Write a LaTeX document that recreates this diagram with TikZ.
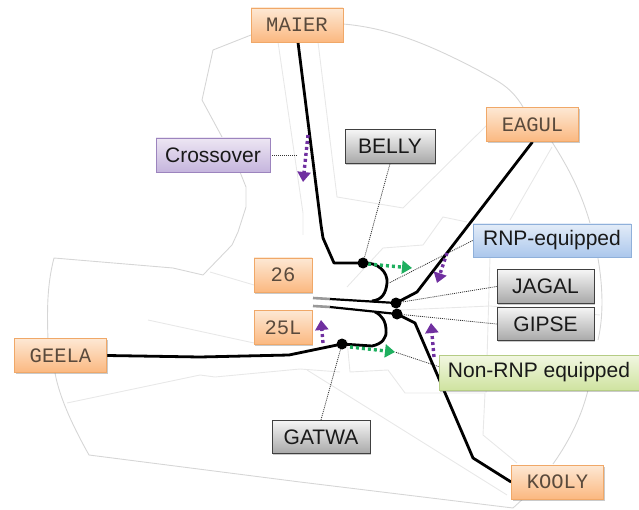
\documentclass[tikz,border=0pt]{standalone}
\usepackage{fontspec}
\setmainfont{Liberation Sans}
\newfontfamily\monofam{Liberation Mono}
\usetikzlibrary{arrows.meta,shadows}
\definecolor{grayline}{HTML}{D6D6D6}
\definecolor{faintline}{HTML}{E8E8E8}
\definecolor{purp}{HTML}{7030A0}
\definecolor{grn}{HTML}{1FAF5F}
\definecolor{fixtext}{HTML}{5A4A3C}
\definecolor{orT}{HTML}{FDE8D4}\definecolor{orB}{HTML}{FBB880}\definecolor{orL}{HTML}{F0A868}
\definecolor{puT}{HTML}{EDE6F3}\definecolor{puB}{HTML}{C5B5DD}\definecolor{puL}{HTML}{9C84BE}
\definecolor{blT}{HTML}{E3ECF8}\definecolor{blB}{HTML}{ABC7EC}\definecolor{blL}{HTML}{8FB0DA}
\definecolor{grT}{HTML}{F2F7E2}\definecolor{grB}{HTML}{CFE3A0}\definecolor{grL}{HTML}{B5CC85}
\definecolor{gyT}{HTML}{F5F5F5}\definecolor{gyB}{HTML}{A8A8A8}\definecolor{gyL}{HTML}{404040}
\pgfdeclarelayer{back}
\pgfsetlayers{back,main}
\tikzset{
  boxbase/.style={rectangle,inner sep=0pt,drop shadow={shadow xshift=1pt,shadow yshift=-1.5pt,opacity=.35,fill=black!60}},
  fixbox/.style={boxbase,draw=#1,line width=.8pt,shading=axis,shading angle=0},
  sansfont/.style={font=\fontsize{21}{23}\selectfont,text=black!90},
  fixname/.style={fixbox=orL,bottom color=orB,top color=orT,minimum width=92pt,minimum height=34pt,font=\fontsize{20.5}{22}\selectfont\monofam,text=fixtext},
  waypt/.style={fixbox=gyL,bottom color=gyB,top color=gyT,minimum height=33.5pt,sansfont},
  tagpurple/.style={fixbox=puL,bottom color=puB,top color=puT,sansfont},
  tagblue/.style={fixbox=blL,bottom color=blB,top color=blT,sansfont},
  taggreen/.style={fixbox=grL,bottom color=grB,top color=grT,sansfont},
  outline/.style={draw=grayline,line width=.9pt},
  sector/.style={draw=faintline,line width=.9pt},
  leader/.style={draw=black!80,line width=.8pt,dash pattern=on 1pt off 1pt},
  track/.style={draw=black,line width=2.8pt,line join=round},
  rwy/.style={draw=black,line width=2.2pt},
  rwyend/.style={draw=black!40,line width=2.6pt},
  jdot/.style={circle,fill=black,inner sep=0pt,minimum size=11pt},
  flowp/.style={draw=purp,line width=3.4pt,dash pattern=on 3pt off 3pt,-{Triangle[length=10pt,width=13pt]}},
  flowg/.style={draw=grn,line width=3.4pt,dash pattern=on 3pt off 3pt,-{Triangle[length=10pt,width=13pt]}},
}
\begin{document}
\begin{tikzpicture}[x=1pt,y=-1pt]
\useasboundingbox (0,0) rectangle (639,510);
\node[jdot] (jn) at (363,263) {};
\node[jdot] (js) at (342,344) {};
\node[jdot] (ja) at (396,303) {};
\node[jdot] (gi) at (397,314) {};
\coordinate (rn) at (389,283);
\coordinate (xo) at (297,155);
\coordinate (ga) at (395,352);
\coordinate (t26) at (313,298);
\coordinate (t26b) at (330,299);
\coordinate (t25) at (313,306);
\coordinate (t25b) at (330,307);
\coordinate (pa1) at (308,135); \coordinate (pa2) at (303,182);
\coordinate (pb1) at (447,253); \coordinate (pb2) at (437,283);
\coordinate (pc1) at (323,343); \coordinate (pc2) at (321,320);
\coordinate (pd1) at (434,357); \coordinate (pd2) at (431,323);
\coordinate (ga1) at (368,264); \coordinate (ga2) at (412,268);
\coordinate (gb1) at (350,347);
\node[fixname] (maier) at (297,25) {MAIER};
\node[fixname] (eagul) at (532.5,124.5) {EAGUL};
\node[fixname,minimum width=58pt] (r26) at (283,275) {26};
\node[fixname,minimum width=58pt] (r25) at (283,327.5) {25L};
\node[fixname] (geela) at (60.5,355.5) {GEELA};
\node[fixname] (kooly) at (557.5,482) {KOOLY};
\node[tagpurple,minimum width=114pt,minimum height=34pt] (cross) at (213,155) {Crossover};
\node[waypt,minimum width=90pt] (belly) at (390,146.5) {BELLY};
\node[tagblue,minimum width=158pt,minimum height=33pt] (rnp) at (552,240.5) {RNP-equipped};
\node[waypt,minimum width=97pt] (jagal) at (545.5,286.5) {JAGAL};
\node[waypt,minimum width=97pt] (gipse) at (545.5,324) {GIPSE};
\node[taggreen,minimum width=200pt,minimum height=35pt] (nonrnp) at (539,372.5) {Non-RNP equipped};
\node[waypt,minimum width=98pt] (gatwa) at (321,437) {GATWA};
\begin{pgfonlayer}{back}
% airspace outline
\draw[outline] (251,35) -- (213,50) -- (202,100) -- (222,137) -- (240,172) -- (246,187) -- (246,207) -- (238,232) -- (232,245) -- (203,275) -- (173,268) -- (54,258) .. controls (47,285) and (47,310) .. (48,340) -- (55,373) .. controls (60,400) and (75,430) .. (89,455) -- (300,482) -- (513,508) -- (525,497);
\draw[outline] (553,464) .. controls (570,440) and (582,415) .. (588,390);
\draw[outline] (598,340) .. controls (605,310) and (603,270) .. (590,223) .. controls (582,195) and (570,170) .. (552,142);
\draw[outline] (523,107) .. controls (510,85) and (495,80) .. (478,70) .. controls (430,45) and (390,28) .. (343,24);
% sectors
\draw[sector] (278,42) -- (303,213) -- (303,235);
\draw[sector] (318,42) -- (337,197) -- (403,208) -- (487,125);
\draw[sector] (552,147) -- (510,220);
\draw[sector] (347,287) -- (383,248) -- (423,245) -- (443,217) -- (467,222);
\draw[sector] (210,272) -- (254,285);
\draw[sector] (148,320) -- (254,343);
\draw[sector] (67,403) -- (200,375) -- (215,377) -- (300,369) -- (340,372);
\draw[sector] (347,340) -- (350,372) -- (388,370) -- (405,393) -- (485,393) -- (483,435) -- (517,463);
\draw[sector] (490,257) -- (486,393);
\draw[sector] (400,310) -- (490,306) -- (600,315);
\draw[sector] (307,370) -- (507,495);
% leaders
\draw[leader] (cross.east) -- (xo);
\draw[leader] (belly.south) -- (jn);
\draw[leader] (rnp.west) -- (rn);
\draw[leader] (jagal.west) -- (ja);
\draw[leader] (gipse.west) -- (gi);
\draw[leader] (nonrnp.north west) ++(0,12) -- (ga);
\draw[leader] (gatwa.north) -- (js);
% tracks
\draw[track] (maier.south) ++(1,0) -- (321,225) -- (323,238) -- (334,263) -- (jn.center) .. controls (378,262) and (388,272) .. (387,283) .. controls (386,293) and (382,300) .. (372,301);
\draw[track] (geela.east) -- (200,357) -- (289,355) -- (js.center) -- (372,346) .. controls (382,344) and (387,338) .. (386,330) .. controls (386,322) and (382,315) .. (375,312);
\draw[track] (eagul.south) -- (417,292) -- (ja.center);
\draw[track] (gi.center) -- (415,323) -- (473,458) -- (kooly.west);
\draw[rwyend] (t26) -- (t26b);
\draw[rwyend] (t25) -- (t25b);
\draw[rwy] (t26b) -- (ja.center);
\draw[rwy] (t25b) -- (gi.center);
% flows
\draw[flowp] (pa1) -- (pa2);
\draw[flowp] (pb1) -- (pb2);
\draw[flowp] (pc1) -- (pc2);
\draw[flowp] (pd1) -- (pd2);
\draw[flowg] (ga1) -- (ga2);
\draw[flowg] (gb1) -- (ga);
\end{pgfonlayer}
\end{tikzpicture}
\end{document}
